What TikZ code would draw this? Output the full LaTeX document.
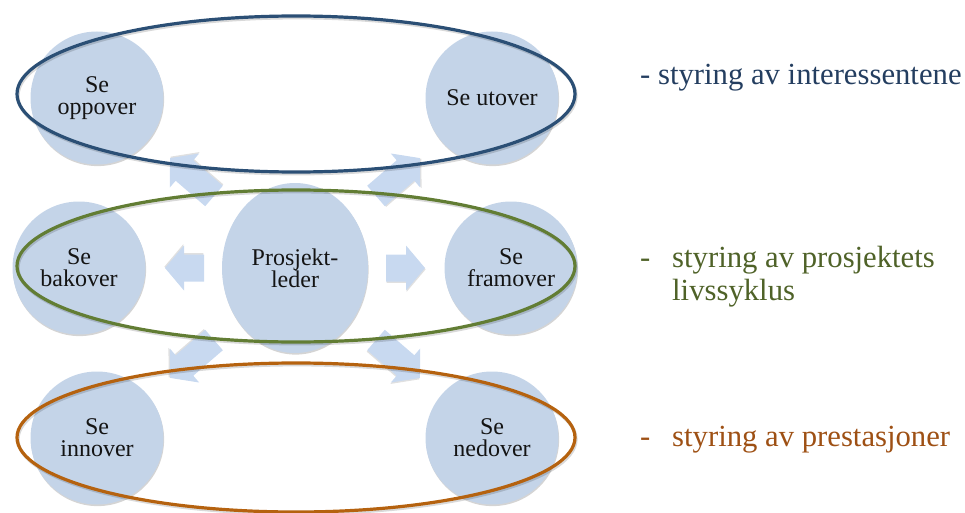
\documentclass[tikz,border=0pt]{standalone}
\usepackage{fontspec}
\setmainfont{Liberation Serif}
\usetikzlibrary{shapes.geometric,shadows}

\definecolor{circfill}{RGB}{196,212,232}
\definecolor{arrowfill}{RGB}{200,217,240}
\definecolor{ringblue}{RGB}{43,79,117}
\definecolor{ringgreen}{RGB}{98,125,52}
\definecolor{ringorange}{RGB}{181,98,15}
\definecolor{txtblue}{RGB}{36,62,96}
\definecolor{txtgreen}{RGB}{79,98,40}
\definecolor{txtorange}{RGB}{158,80,20}

\begin{document}
\begin{tikzpicture}[x=1pt,y=-1pt,
  view/.style={ellipse, fill=circfill, inner sep=0pt,
    minimum width=133pt, minimum height=133pt, align=center,
    font=\fontsize{24}{22}\selectfont, text=black!92,
    drop shadow={shadow xshift=0.6pt, shadow yshift=-1.6pt, opacity=0.28, fill=black!60}},
  ring/.style={line width=3.2pt},
  ringshadow/.style={line width=3.2pt, black, opacity=0.15},
  sidetext/.style={anchor=base west, inner sep=0pt, font=\fontsize{30.7}{33}\selectfont},
  pics/blockarrow/.style={code={
    \fill[black, opacity=0.12, shift={(0.6,1.4)}]
      (0,-13.5) -- ({#1-19},-13.5) -- ({#1-19},-22.5) -- (#1,0) --
      ({#1-19},22.5) -- ({#1-19},13.5) -- (0,13.5) -- cycle;
    \fill[arrowfill]
      (0,-13.5) -- ({#1-19},-13.5) -- ({#1-19},-22.5) -- (#1,0) --
      ({#1-19},22.5) -- ({#1-19},13.5) -- (0,13.5) -- cycle;
  }}
]
\useasboundingbox (0,0) rectangle (965,513);

% the seven viewpoints
\node[view] (oppover) at (97,98) {Se\\oppover};
\node[view] (utover) at (492,98) {Se utover};
\node[view] (bakover) at (79,268) {Se\\bakover};
\node[view, minimum width=146pt, minimum height=170pt] (leder) at (295,268) {Prosjekt-\\leder};
\node[view] (framover) at (511,268) {Se\\framover};
\node[view] (innover) at (97,438) {Se\\innover};
\node[view] (nedover) at (492,438) {Se\\nedover};

% block arrows radiating from the project manager
\coordinate (ulTail) at (214,196);
\coordinate (urTail) at (376,196);
\coordinate (llTail) at (214,340);
\coordinate (lrTail) at (376,340);
\coordinate (lTail) at (204,268);
\coordinate (rTail) at (386,268);
\pic[rotate=139.2] at (ulTail) {blockarrow=58};
\pic[rotate=40.8] at (urTail) {blockarrow=58};
\pic[rotate=-139.2] at (llTail) {blockarrow=58};
\pic[rotate=-40.8] at (lrTail) {blockarrow=58};
\pic[rotate=180] at (lTail) {blockarrow=39};
\pic at (rTail) {blockarrow=39};

% group outlines
\draw[ringshadow] (297,95.8) ellipse [x radius=279, y radius=78];
\draw[ring, ringblue] (296,94) ellipse [x radius=279, y radius=78];
\draw[ringshadow] (297,267.8) ellipse [x radius=279, y radius=76];
\draw[ring, ringgreen] (296,266) ellipse [x radius=279, y radius=76];
\draw[ringshadow] (297,439.3) ellipse [x radius=279, y radius=74.5];
\draw[ring, ringorange] (296,437.5) ellipse [x radius=279, y radius=74.5];

% descriptions
\node[sidetext, text=txtblue] (lab1) at (640,85) {- styring av interessentene};
\node[sidetext, text=txtgreen] (dash2) at (640,267) {-};
\node[sidetext, text=txtgreen, align=left] (lab2) at (672,300) {styring av prosjektets\\livssyklus};
\node[sidetext, text=txtorange] (dash3) at (640,446) {-};
\node[sidetext, text=txtorange] (lab3) at (672,446) {styring av prestasjoner};
\end{tikzpicture}
\end{document}
